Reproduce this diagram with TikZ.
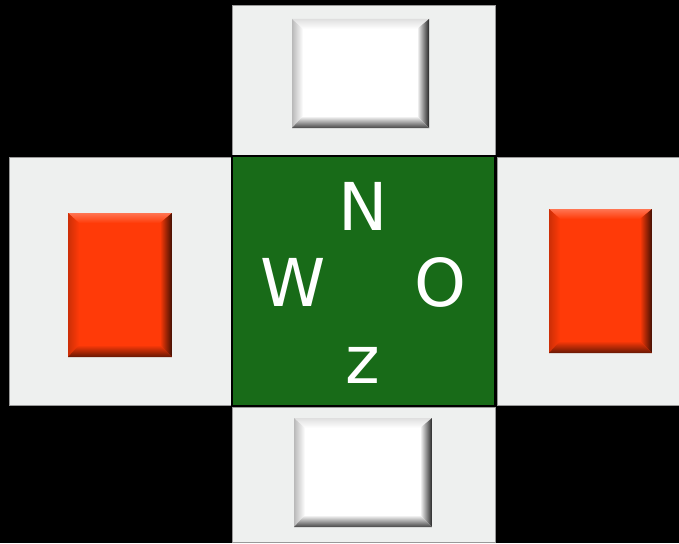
\documentclass[tikz,border=0pt]{standalone}
\usepackage{fontspec}
\setmainfont{DejaVu Sans}
\usepackage{tikz}

\definecolor{panelgray}{HTML}{EEF0EF}
\definecolor{fieldgreen}{HTML}{186B18}
\definecolor{signred}{HTML}{FF3A08}

\begin{document}
\begin{tikzpicture}[
    x=1pt, y=-1pt,
    panel/.style={rectangle, draw=gray!80, line width=0.8pt, fill=panelgray, inner sep=0pt, outer sep=0pt},
    center/.style={rectangle, draw=black, line width=2pt, fill=fieldgreen, inner sep=0pt, outer sep=0pt},
    bevel/.style n args={5}{rectangle, fill=#1, inner sep=0pt, outer sep=0pt,
      path picture={
        \coordinate (bnw) at (path picture bounding box.north west);
        \coordinate (bne) at (path picture bounding box.north east);
        \coordinate (bsw) at (path picture bounding box.south west);
        \coordinate (bse) at (path picture bounding box.south east);
        \shade[top color=#2, bottom color=#1] (bnw) -- (bne) -- ([xshift=-12pt,yshift=-10pt]bne) -- ([xshift=11pt,yshift=-10pt]bnw) -- cycle;
        \shade[left color=#3, right color=#1] (bnw) -- ([xshift=11pt,yshift=-10pt]bnw) -- ([xshift=11pt,yshift=12pt]bsw) -- (bsw) -- cycle;
        \shade[left color=#1, right color=#4] (bne) -- (bse) -- ([xshift=-12pt,yshift=12pt]bse) -- ([xshift=-12pt,yshift=-10pt]bne) -- cycle;
        \shade[top color=#1, bottom color=#5] (bsw) -- ([xshift=11pt,yshift=12pt]bsw) -- ([xshift=-12pt,yshift=12pt]bse) -- (bse) -- cycle;
      }},
    whitebox/.style={bevel={white}{gray!25}{gray!55}{gray!30!black}{gray!55!black}},
    redbox/.style={bevel={signred}{signred!70!white}{signred!80!black}{signred!25!black}{signred!40!black}},
    letter/.style={anchor=base, text=white, font=\fontsize{66}{70}\selectfont}
  ]
    % Background
    \fill[black] (0,0) rectangle (679,543);
    \useasboundingbox (0,0) rectangle (679,543);

    % Panels round the field
    \node[panel, minimum width=263pt, minimum height=150pt] (top) at (363.5,80) {};
    \node[panel, minimum width=222pt, minimum height=248pt] (left) at (120,281) {};
    \node[panel, minimum width=185pt, minimum height=248pt] (right) at (589.5,281) {};
    \node[panel, minimum width=263pt, minimum height=135pt] (bottom) at (363.5,474.5) {};

    % Field
    \node[center, minimum width=263pt, minimum height=250pt] (field) at (363.5,281) {};

    % Buttons
    \node[whitebox, minimum width=137pt, minimum height=109pt] (btop) at (360.5,73.5) {};
    \node[whitebox, minimum width=138pt, minimum height=109pt] (bbottom) at (363,472.5) {};
    \node[redbox, minimum width=104pt, minimum height=144pt] (bleft) at (120,285) {};
    \node[redbox, minimum width=103pt, minimum height=144pt] (bright) at (600.5,281) {};

    % Compass letters
    \node[letter] (n) at (363,230) {N};
    \node[letter] (w) at (293,306) {W};
    \node[letter] (o) at (440,306) {O};
    \node[letter] (z) at (363,383) {z};

  \end{tikzpicture}
\end{document}
